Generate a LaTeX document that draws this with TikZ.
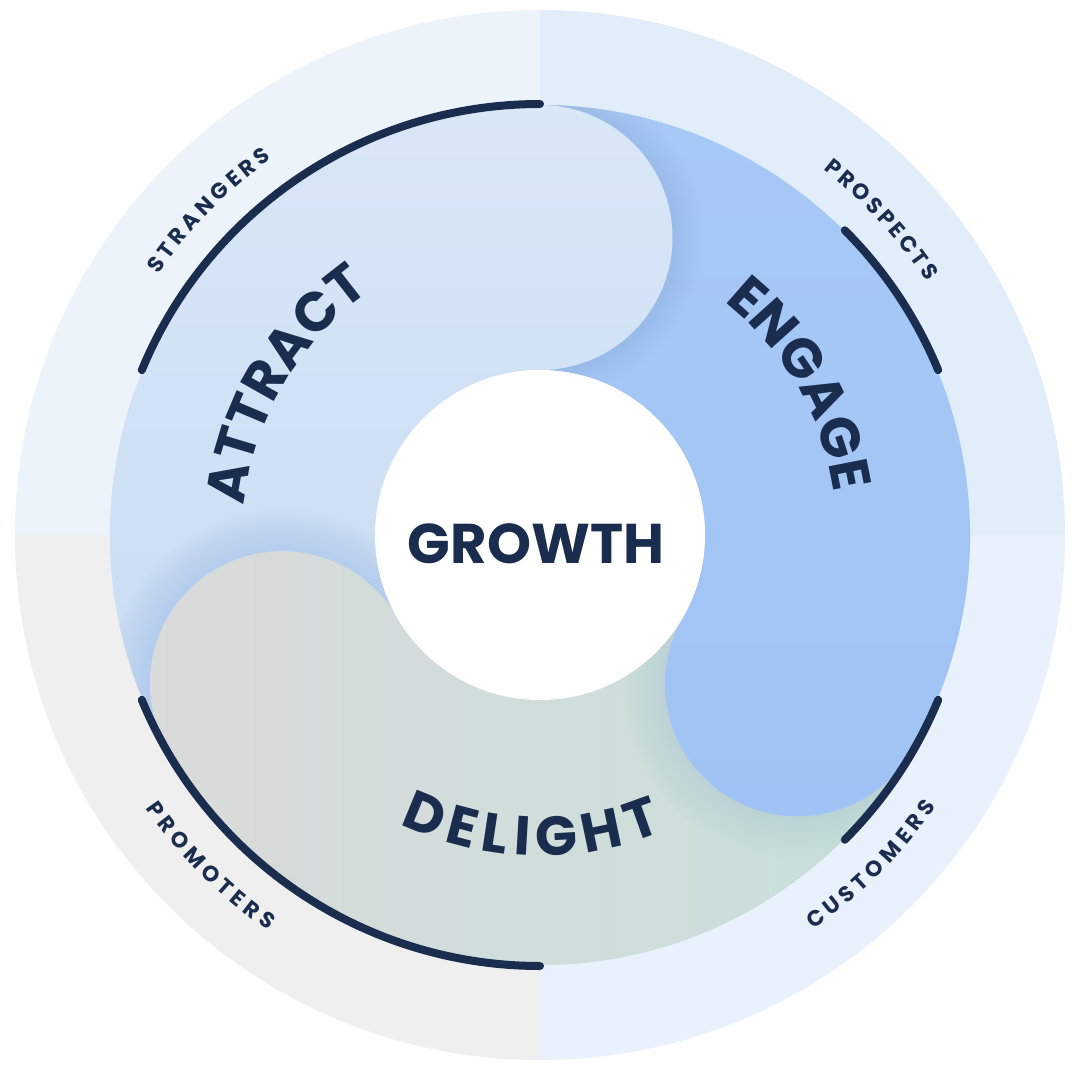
\documentclass[tikz,border=0pt]{standalone}
\usepackage{fontspec}
\setmainfont{Poppins}
\usetikzlibrary{decorations.text}
\definecolor{navyc}{HTML}{1B2D4F}
\definecolor{ringTL}{HTML}{ECF3FB}
\definecolor{ringTR}{HTML}{E2EDFA}
\definecolor{ringBR}{HTML}{E9F2FC}
\definecolor{ringBL}{HTML}{EFEFEF}
\definecolor{diskbase}{HTML}{D5E4F5}
\definecolor{attrTop}{HTML}{D9E7F7}
\definecolor{attrBot}{HTML}{C9DCF4}
\definecolor{engTop}{HTML}{A8C9F6}
\definecolor{engBot}{HTML}{9FC3F4}
\definecolor{delLeft}{HTML}{DADADA}
\definecolor{delMid}{HTML}{D5DBDA}
\definecolor{delRight}{HTML}{C6E0DB}
\definecolor{glowEng}{HTML}{7EA9E9}
\definecolor{glowAttr}{HTML}{9DBDEE}
\definecolor{glowDel}{HTML}{9CC6D6}
\newcommand\bigfmt{\fontsize{55}{58}\selectfont\bfseries}
\newcommand\smallfmt{\fontsize{22}{24}\selectfont\bfseries}
\newcommand\sectorclip[1]{\clip ({#1}:430pt) arc[start angle={#1}, end angle={#1+120}, radius=430pt] -- ({#1+120}:165pt) arc[start angle={#1+120}, end angle={#1}, radius=165pt] -- cycle;}
\newcommand\capclip[1]{\clip ({#1}:297.5pt) circle[radius=132.5pt];}
\newcommand\attrshade{\shade[top color=attrTop, bottom color=attrBot] (-440pt,440pt) rectangle (140pt,-230pt);}
\newcommand\engshade{\shade[top color=engTop, bottom color=engBot] (-10pt,440pt) rectangle (440pt,-290pt);}
\newcommand\delshade{\shade[left color=delLeft, middle color=delMid, right color=delRight] (-440pt,-440pt) rectangle (440pt,0pt);}
% #1 cap angle, #2 colour, #3 opacity per step, #4 step width
\newcommand\capglow[4]{\begin{scope}\sectorclip{#1-120}\foreach \k in {1,...,12}{\fill[#2, opacity=#3] ({#1}:297.5pt) circle[radius={132.5pt+\k*#4}];}\end{scope}}
\tikzset{
  darkarc/.style={draw=navyc, line width=8pt, line cap=round},
  bigtext/.style={decorate, decoration={text along path, text={|\bigfmt|#1}, text align=center, text color=navyc}},
  bigfit/.style={decorate, decoration={text along path, text={|\bigfmt|#1}, text align={fit to path}, text color=navyc}},
  smalltext/.style={decorate, decoration={text along path, text={|\smallfmt|#1}, text align={fit to path}, text color=navyc}}
}
\begin{document}
\begin{tikzpicture}
\useasboundingbox (-540pt,-545pt) rectangle (540pt,535pt);
\fill[white] (-540pt,-545pt) rectangle (540pt,535pt);
% outer ring quadrants
\fill[ringTL] (0,0) -- (90:525pt) arc[start angle=90, end angle=180, radius=525pt] -- cycle;
\fill[ringBL] (0,0) -- (180:525pt) arc[start angle=180, end angle=270, radius=525pt] -- cycle;
\fill[ringBR] (0,0) -- (270:525pt) arc[start angle=270, end angle=360, radius=525pt] -- cycle;
\fill[ringTR] (0,0) -- (0:525pt) arc[start angle=0, end angle=90, radius=525pt] -- cycle;
\fill[diskbase] (0,0) circle[radius=430pt];
% blade sectors
\begin{scope}\sectorclip{330}\engshade\end{scope}
\begin{scope}\sectorclip{90}\attrshade\end{scope}
\begin{scope}\sectorclip{210}\delshade\end{scope}
% soft shadows around caps
\capglow{90}{glowEng}{0.016}{2.5pt}
\capglow{210}{glowAttr}{0.045}{3.5pt}
\capglow{330}{glowDel}{0.022}{3.5pt}
% caps
\begin{scope}\capclip{90}\attrshade\end{scope}
\begin{scope}\capclip{210}\delshade\end{scope}
\begin{scope}\capclip{330}\engshade\end{scope}
% hub
\node[circle, fill=white, minimum size=330pt, inner sep=0pt] (hub) at (0,0) {};
\node[anchor=base, font=\fontsize{56}{60}\selectfont\bfseries, text=navyc, inner sep=0pt] (growth) at (-4pt,-28pt) {GROWTH};
% dark arcs
\draw[darkarc] (90:431pt) arc[start angle=90, end angle=157.5, radius=431pt];
\draw[darkarc] (22.5:431pt) arc[start angle=22.5, end angle=45, radius=431pt];
\draw[darkarc] (-45:431pt) arc[start angle=-45, end angle=-22.5, radius=431pt];
\draw[darkarc] (202.5:431pt) arc[start angle=202.5, end angle=270, radius=431pt];
% big labels
\path[bigtext=ATTRACT] ({149.6+45}:297pt) arc[start angle={149.6+45}, end angle={149.6-45}, radius=297pt];
\path[bigtext=ENGAGE] ({30+45}:297pt) arc[start angle={30+45}, end angle={30-45}, radius=297pt];
\path[bigfit=DELIGHT] (244.1:321pt) arc[start angle=244.1, end angle=292.5, radius=321pt];
% small labels
\path[smalltext=STRANGERS] (145.7:462pt) arc[start angle=145.7, end angle=125.5, radius=462pt];
\path[smalltext=PROSPECTS] (52.2:462pt) arc[start angle=52.2, end angle=33.2, radius=462pt];
\path[smalltext=CUSTOMERS] (-55.3:480pt) arc[start angle=-55.3, end angle=-34.4, radius=480pt];
\path[smalltext=PROMOTERS] (214.7:480pt) arc[start angle=214.7, end angle=235.5, radius=480pt];
\end{tikzpicture}
\end{document}
